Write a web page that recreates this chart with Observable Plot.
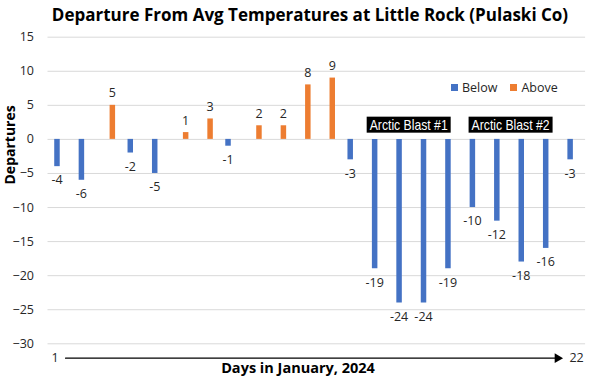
<!DOCTYPE html>
<html>
<head>
<meta charset="utf-8">
<script src="https://cdn.jsdelivr.net/npm/d3@7"></script>
<script src="https://cdn.jsdelivr.net/npm/@observablehq/plot@0.6"></script>
<style>
  html, body { margin: 0; padding: 0; background: #fff; }
  #wrap { position: relative; width: 589px; height: 383px; font-family: "Open Sans", sans-serif; }
  #title { position: absolute; left: 0; top: 3px; width: 620px; text-align: center; font: bold 17px "Open Sans", sans-serif; color: #000; white-space: nowrap; }
  #legend { position: absolute; left: 451px; top: 79px; font: 12.5px "Open Sans", sans-serif; color: #262626; display: flex; align-items: center; }
  #legend .sw { display: inline-block; width: 7px; height: 7px; margin-right: 4px; }
  #legend .item { display: flex; align-items: center; margin-right: 13px; }
  #chart { position: absolute; left: 0; top: 0; }
</style>
</head>
<body>
<div id="wrap">
  <div id="chart"></div>
  <div id="title"></div>
  <div id="legend"></div>
</div>
<script>
const titleText = "Departure From Avg Temperatures at Little Rock (Pulaski Co)";
const days = [1,2,3,4,5,6,7,8,9,10,11,12,13,14,15,16,17,18,19,20,21,22];
const departures = [-4,-6,5,-2,-5,1,3,-1,2,2,8,9,-3,-19,-24,-24,-19,-10,-12,-18,-16,-3];
const seriesNames = ["Below","Above"];
const seriesColors = ["#4472C4","#ED7D31"];
const yTicks = [15,10,5,0,-5,-10,-15,-20,-25,-30];
const axisEnds = [1, 22];
const yLabel = "Departures";
const xLabel = "Days in January, 2024";
const blastLabels = ["Arctic Blast #1","Arctic Blast #2"];
const blastDays = [15.26, 19.43];
const blastLevels = [2.06, 2.06];

document.getElementById("title").textContent = titleText;
const legend = document.getElementById("legend");
seriesNames.forEach((s, i) => {
  const it = document.createElement("span"); it.className = "item";
  const sw = document.createElement("span"); sw.className = "sw"; sw.style.background = seriesColors[i];
  it.appendChild(sw); it.appendChild(document.createTextNode(s));
  legend.appendChild(it);
});

const data = days.map((d, i) => ({day: d, value: departures[i], series: departures[i] < 0 ? "Below" : "Above"}));
const below = data.filter(d => d.series === "Below");
const above = data.filter(d => d.series === "Above");
const blasts = blastLabels.map((t, i) => ({text: t, day: blastDays[i], level: blastLevels[i]}));
const ends = [{x1: axisEnds[0], x2: axisEnds[1]}];

const font = '"Open Sans", sans-serif';
const chart = Plot.plot({
  width: 589,
  height: 383,
  marginLeft: 47.5,
  marginRight: 3.9,
  marginTop: 36.7,
  marginBottom: 39.7,
  style: {fontFamily: font, fontSize: "12.5px", background: "transparent", overflow: "visible"},
  x: {type: "linear", domain: [0.5, 22.5], axis: null},
  y: {domain: [-30, 15], axis: null},
  color: {domain: seriesNames, range: seriesColors},
  marks: [
    Plot.ruleY(yTicks, {stroke: "#d9d9d9", strokeWidth: 1}),
    Plot.axisY({ticks: yTicks, tickSize: 0, tickPadding: 14, label: null, fill: "#262626", fontSize: 12.5}),
    Plot.ruleX(below, {x: "day", y1: 0, y2: "value", stroke: "series", strokeWidth: 5.5, dx: -3.25}),
    Plot.ruleX(above, {x: "day", y1: 0, y2: "value", stroke: "series", strokeWidth: 5.5, dx: 3.25}),
    Plot.text(below, {x: "day", y: "value", text: d => String(d.value), dx: -3.25, dy: 13.8, fill: "#262626", fontSize: 12.5, lineAnchor: "middle"}),
    Plot.text(above, {x: "day", y: "value", text: d => String(d.value), dx: 3.25, dy: -12, fill: "#262626", fontSize: 12.5, lineAnchor: "middle"}),
    Plot.arrow(ends, {x1: "x1", x2: "x2", y1: -30, y2: -30, dy: 14.4, insetStart: 5.3, insetEnd: 17, headLength: 0, stroke: "#000", strokeWidth: 1.2}),
    Plot.dot([axisEnds[1]], {x: d => d, y: -30, dy: 14.4, dx: -15.9, symbol: "triangle", rotate: 90, r: 3.6, fill: "#000", stroke: "none"}),
    Plot.text([axisEnds[0]], {x: d => d, y: -30, dy: 14.2, dx: -1.5, text: d => String(d), textAnchor: "end", lineAnchor: "middle", fill: "#262626", fontSize: 12.5}),
    Plot.text([axisEnds[1]], {x: d => d, y: -30, dy: 14.2, dx: -4, text: d => String(d), textAnchor: "start", lineAnchor: "middle", fill: "#262626", fontSize: 12.5}),
    Plot.text([xLabel], {frameAnchor: "bottom", text: d => d, dy: 24.4, dx: -18.8, fontWeight: "bold", fontSize: 14.5, fill: "#000", lineAnchor: "middle"}),
    Plot.text([yLabel], {frameAnchor: "left", text: d => d, rotate: -90, dx: -37.5, dy: -6, fontWeight: "bold", fontSize: 14, fill: "#000", lineAnchor: "middle"}),
    Plot.text(blasts, {x: "day", y: "level", text: "text", fill: "#fff", fontSize: 15, lineAnchor: "middle", className: "blast", fontFamily: '"Liberation Sans", Arial, sans-serif'})
  ]
});
document.getElementById("chart").appendChild(chart);

// condense annotation texts and put black boxes behind them
chart.querySelectorAll(".blast text").forEach(t => {
  t.setAttribute("textLength", 78);
  t.setAttribute("lengthAdjust", "spacingAndGlyphs");
  const b = t.getBBox();
  const r = document.createElementNS("http://www.w3.org/2000/svg", "rect");
  const cy = b.y + b.height / 2;
  const cx = b.x + b.width / 2;
  r.setAttribute("x", cx - 42);
  r.setAttribute("width", 84);
  r.setAttribute("y", cy - 8);
  r.setAttribute("height", 16);
  r.setAttribute("fill", "#000");
  if (t.getAttribute("transform")) r.setAttribute("transform", t.getAttribute("transform"));
  t.parentNode.insertBefore(r, t);
});
</script>
</body>
</html>
